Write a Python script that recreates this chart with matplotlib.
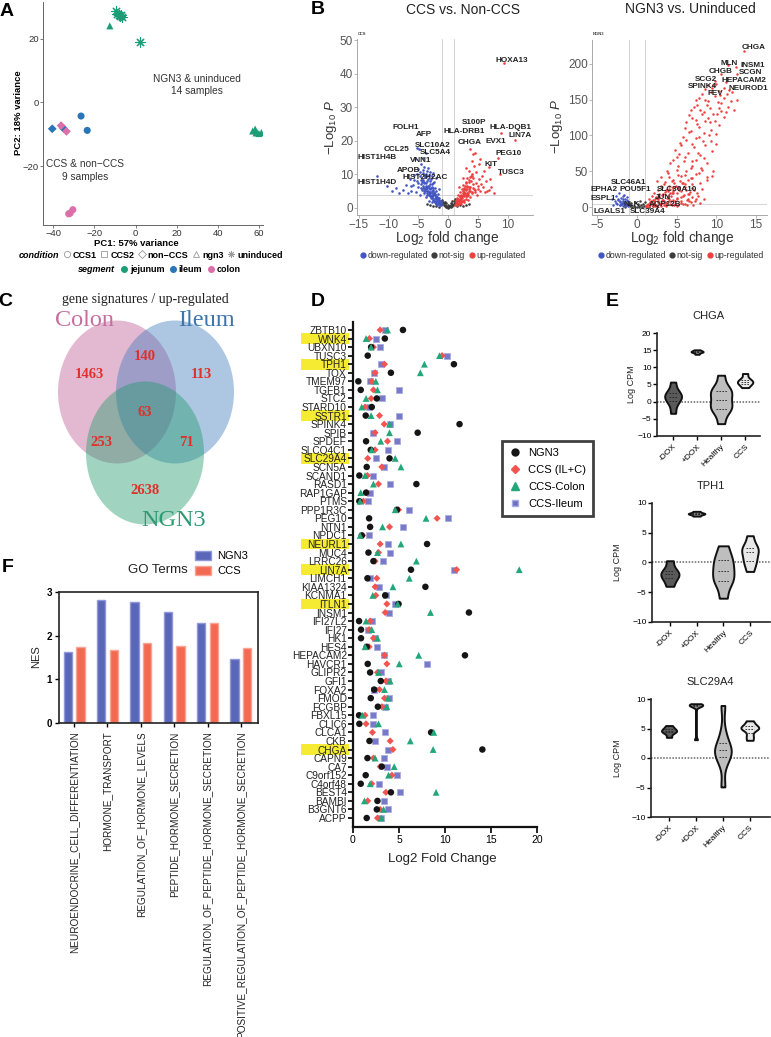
import numpy as np
import matplotlib
matplotlib.use('Agg')
import matplotlib.pyplot as plt
from matplotlib.lines import Line2D
from matplotlib.patches import Ellipse, Rectangle, Patch
import matplotlib.transforms as mtransforms

plt.rcParams['font.family'] = ['Liberation Sans', 'DejaVu Sans']
plt.rcParams['mathtext.fontset'] = 'custom'
plt.rcParams['mathtext.rm'] = 'Liberation Sans'
plt.rcParams['mathtext.it'] = 'Liberation Sans:italic'
plt.rcParams['mathtext.bf'] = 'Liberation Sans:bold'

# ======================= DATA =======================
# --- A: PCA ---
pca_segment = ['jejunum'] * 14 + ['ileum'] * 4 + ['colon'] * 5
pca_condition = (['ngn3'] * 7 + ['uninduced'] * 7 + ['non-CCS', 'non-CCS', 'CCS1', 'CCS1']
                 + ['non-CCS', 'non-CCS', 'CCS1', 'CCS1', 'CCS1'])
pca_pc1 = [-12.5, 57.0, 58.2, 59.0, 60.0, 61.2, 58.6, -9.5, -9.0, -8.2, -7.4, -7.0, -6.6, 2.3,
           -40.5, -35.0, -26.5, -23.5, -36.2, -33.6, -32.5, -31.8, -30.5]
pca_pc2 = [24.0, -9.0, -8.4, -9.4, -9.8, -9.5, -9.6, 28.6, 27.8, 27.4, 27.0, 27.3, 26.7, 19.0,
           -8.3, -8.2, -4.3, -8.8, -7.3, -9.1, -35.0, -34.8, -33.7]

# --- B left: CCS vs Non-CCS volcano ---
ccs_down_x = [-1.2, -1.3, -1.4, -1.5, -1.6, -1.7, -1.8, -1.9, -2.0, -2.0,
              -2.1, -2.2, -2.3, -2.3, -2.4, -2.5, -2.5, -2.6, -2.7, -2.7,
              -2.8, -2.9, -2.9, -3.0, -3.1, -3.1, -3.2, -3.3, -3.3, -3.4,
              -3.5, -3.5, -3.6, -3.7, -3.8, -3.9, -4.0, -4.0, -4.1, -4.2,
              -4.3, -4.4, -4.5, -4.6, -4.7, -4.8, -5.0, -5.1, -5.2, -5.4,
              -5.5, -5.7, -5.9, -6.2, -6.4, -6.8, -7.1, -7.6, -8.2, -8.8,
              -9.4, -10.3, -12.0, -4.9, -3.8, -4.3, -5.2, -2.1, -1.6, -2.6,
              -1.5, -1.8, -2.1, -2.4, -2.7, -3.0, -3.3, -3.6, -3.9, -4.2,
              -1.9, -2.2, -2.5, -2.8, -3.1, -3.4, -3.7, -4.0, -4.4, -4.8,
              -1.3, -1.5, -1.7, -1.9, -2.1, -2.3, -2.5, -2.7, -2.9, -3.1,
              -3.3, -3.5, -3.7, -3.9, -4.1, -4.3, -4.5, -1.4, -1.6, -1.8,
              -2.0, -2.2, -2.4, -2.6, -2.8, -3.0, -3.2, -3.4, -3.6, -3.8,
              -4.0, -4.2, -4.4, -2.0, -2.3, -2.6, -2.9, -3.2, -3.5, -3.8,
              -4.1, -4.6, -5.0, -5.3, -5.8, -6.3, -2.8, -3.4, -3.0, -2.4]
ccs_down_y = [1.0, 2.0, 1.4, 3.0, 2.2, 4.1, 1.6, 3.4, 5.0, 2.6,
              1.3, 4.2, 6.1, 3.0, 2.0, 5.3, 7.4, 3.8, 1.8, 6.4,
              4.6, 8.6, 2.9, 5.7, 7.0, 3.6, 9.8, 4.8, 2.2, 6.6,
              8.0, 11.0, 5.2, 3.2, 7.3, 9.1, 4.4, 12.2, 6.0, 8.4,
              10.3, 5.3, 13.0, 7.0, 9.4, 3.8, 6.2, 11.5, 8.0, 4.8,
              14.5, 9.8, 6.9, 5.0, 8.6, 4.6, 6.8, 5.4, 4.4, 6.0,
              5.2, 6.6, 9.6, 17.5, 16.3, 15.0, 18.0, 9.0, 5.8, 10.5,
              1.8, 2.9, 3.6, 4.4, 3.2, 4.0, 6.0, 4.0, 5.6, 6.6,
              0.9, 1.8, 2.7, 3.4, 4.6, 5.0, 6.4, 7.8, 8.2, 10.6,
              1.6, 2.4, 2.9, 2.1, 3.0, 3.8, 4.0, 5.0, 6.0, 4.8,
              3.9, 5.9, 6.5, 5.0, 7.3, 6.0, 8.3, 0.8, 1.2, 2.5,
              3.6, 1.7, 4.8, 6.0, 7.0, 8.0, 6.6, 8.6, 9.6, 10.2,
              9.8, 11.2, 7.6, 1.4, 2.2, 2.4, 3.6, 4.2, 4.6, 5.6,
              5.0, 6.0, 7.4, 10.0, 8.2, 6.6, 9.4, 12.0, 10.8, 7.8]
ccs_up_x = [1.2, 1.3, 1.4, 1.5, 1.6, 1.7, 1.8, 1.9, 2.0, 2.0,
            2.1, 2.2, 2.3, 2.3, 2.4, 2.5, 2.5, 2.6, 2.7, 2.7,
            2.8, 2.9, 2.9, 3.0, 3.1, 3.1, 3.2, 3.3, 3.3, 3.4,
            3.5, 3.5, 3.6, 3.7, 3.8, 3.9, 4.0, 4.0, 4.1, 4.2,
            4.3, 4.4, 4.5, 4.6, 4.7, 4.8, 5.0, 5.1, 5.2, 5.4,
            5.6, 5.9, 6.2, 6.4, 6.8, 7.2, 7.6, 3.6, 4.2, 3.0,
            2.4, 1.8, 6.0, 5.3, 1.5, 1.9, 2.2, 2.6, 3.0, 3.4,
            9.3, 8.8, 11.2, 8.4, 6.9, 8.6,
            1.3, 1.5, 1.7, 1.9, 2.1, 2.3, 2.5, 2.7, 2.9, 3.1,
            3.3, 3.5, 3.7, 3.9, 4.1, 4.3, 1.4, 1.6, 1.8, 2.0,
            2.2, 2.4, 2.6, 2.8, 3.0, 3.2, 3.4, 3.6, 3.8, 4.0,
            2.0, 2.3, 2.6, 2.9, 3.2, 4.5, 4.9, 5.5, 6.5, 7.0]
ccs_up_y = [1.0, 2.0, 1.4, 3.0, 2.2, 3.8, 1.6, 3.3, 4.7, 2.5,
            1.3, 4.0, 5.6, 3.0, 2.0, 5.0, 6.8, 3.7, 1.8, 6.0,
            4.4, 7.8, 2.8, 5.4, 6.6, 3.5, 9.0, 4.6, 2.3, 6.2,
            7.6, 11.0, 5.0, 3.2, 8.0, 10.2, 4.4, 14.0, 6.0, 9.0,
            12.5, 5.5, 16.5, 7.4, 10.8, 4.0, 6.6, 13.0, 8.5, 5.0,
            9.6, 6.4, 4.8, 8.0, 5.4, 6.4, 4.6, 17.5, 16.0, 12.0,
            8.8, 6.2, 11.0, 14.5, 1.8, 2.6, 3.3, 4.2, 3.9, 5.0,
            43.2, 22.4, 20.4, 15.0, 12.3, 10.0,
            1.6, 2.4, 2.8, 2.0, 3.0, 3.6, 3.9, 4.8, 5.8, 4.6,
            3.8, 5.6, 6.4, 4.9, 7.0, 5.8, 0.8, 1.2, 2.5, 3.5,
            1.7, 4.6, 5.8, 6.6, 7.4, 6.2, 8.2, 9.2, 9.6, 9.4,
            1.4, 2.2, 2.4, 3.6, 4.0, 4.8, 5.6, 7.0, 5.2, 8.6]
ccs_ns_x = [-1.0, -0.8, -0.6, -0.4, -0.2, 0.0, 0.2, 0.4, 0.6, 0.8, 1.0,
            -0.9, -0.5, -0.1, 0.3, 0.7, 1.1, -0.7, -0.3, 0.1, 0.5, 0.9,
            -1.1, -0.6, 0.0, 0.6, 1.2, -1.3, 1.3, -0.4, 0.4,
            -2.5, -2.0, -1.5, 1.5, 2.0, 2.5, 3.0, -3.0, -3.5, 3.5]
ccs_ns_y = [1.2, 0.9, 0.6, 0.4, 0.2, 0.1, 0.2, 0.4, 0.6, 0.9, 1.2,
            1.8, 0.8, 0.3, 0.5, 1.3, 1.6, 1.5, 0.7, 0.6, 1.0, 2.0,
            2.5, 1.9, 0.9, 2.2, 2.6, 2.0, 1.9, 1.4, 1.5,
            0.5, 0.7, 0.4, 0.6, 0.9, 0.7, 1.0, 0.8, 1.2, 1.1]
ccs_genes = ['HOXA13', 'FOLH1', 'AFP', 'S100P', 'HLA-DRB1', 'HLA-DQB1', 'LIN7A', 'CHGA', 'EVX1',
             'CCL25', 'SLC10A2', 'SLC5A4', 'HIST1H4B', 'VNN1', 'PEG10', 'KIT', 'TUSC3', 'APOB',
             'HIST2H2AC', 'HIST1H4D']
ccs_gene_x = [10.6, -7.1, -4.1, 4.3, 2.7, 10.4, 12.1, 3.6, 7.9, -8.6, -2.6, -2.2, -11.9, -4.6,
              10.1, 7.1, 10.5, -6.7, -3.9, -11.9]
ccs_gene_y = [43.9, 23.9, 21.8, 25.4, 22.7, 23.9, 21.5, 19.4, 19.7, 17.3, 18.5, 16.4, 15.2, 14.3,
              16.1, 13.1, 10.7, 11.3, 9.2, 7.5]

# --- B right: NGN3 vs Uninduced volcano ---
ngn3_up_x = [1.2, 1.4, 1.6, 1.8, 2.0, 2.1, 2.3, 2.4, 2.6, 2.8,
             2.9, 3.0, 3.2, 3.3, 3.5, 3.6, 3.8, 3.9, 4.0, 4.2,
             4.3, 4.5, 4.6, 4.8, 5.0, 5.1, 5.3, 5.5, 5.6, 5.8,
             6.0, 6.2, 6.4, 6.6, 6.8, 7.0, 7.3, 7.6, 8.0, 8.4,
             1.5, 1.9, 2.2, 2.7, 3.1, 3.4, 4.1, 4.7, 5.4, 2.5,
             3.7, 4.4, 5.2, 6.3, 7.1, 1.3,
             3.0, 3.8, 4.5, 5.2, 6.0, 7.0, 7.8, 4.2, 5.0, 5.9,
             6.8, 7.5, 8.2, 4.8, 5.6, 6.4, 7.2, 8.0, 8.8, 9.5,
             5.8, 6.6, 7.4, 8.3, 9.1, 10.0, 6.2, 7.0, 7.8, 8.6,
             9.4, 10.3, 6.8, 7.6, 8.4, 9.2, 10.1, 11.0, 7.4, 8.2,
             9.0, 9.8, 10.6, 11.5, 12.3, 8.6, 9.6, 10.4, 11.3, 12.6,
             3.4, 4.6, 5.8, 6.9, 7.9, 8.8, 9.5, 2.5,
             13.5, 11.5, 12.5, 10.6, 12.6, 9.8, 11.2, 9.5, 11.6, 10.5,
             1.1, 1.3, 1.5, 1.7, 1.9, 2.1, 2.3, 2.5, 2.7, 2.9,
             3.1, 3.3, 3.5, 3.7, 3.9, 4.1, 4.3, 4.5, 4.7, 4.9,
             5.1, 5.3, 5.5, 5.7, 5.9, 6.1, 6.3, 6.5, 6.7, 6.9,
             2.0, 2.4, 2.8, 3.2, 3.6, 4.0, 4.4, 4.8, 5.2, 5.6,
             6.0, 6.4, 6.8, 7.2, 7.7, 3.0, 3.5, 4.0, 4.6, 5.2,
             1.6, 2.2, 2.6, 3.4, 4.2, 5.0, 5.8, 6.6, 7.4, 8.2,
             3.9, 4.4, 5.0, 5.5, 6.2, 6.9, 7.5, 8.1, 8.8, 9.6,
             4.6, 5.3, 6.1, 6.9, 7.7, 8.5, 5.4, 6.2, 7.0, 7.8,
             8.6, 9.4, 6.0, 6.8, 7.6, 8.4, 9.2, 10.0, 6.6, 7.4,
             8.2, 9.0, 9.8, 10.6, 7.2, 8.0, 8.8, 9.6, 10.4, 11.2,
             7.8, 8.6, 9.4, 10.2, 11.0, 11.8, 9.0, 10.0, 11.0, 12.0]
ngn3_up_y = [2, 5, 3, 8, 1.5, 6, 11, 3, 8, 14,
             5, 2, 10, 18, 6, 3, 13, 22, 8, 4,
             16, 26, 10, 5, 19, 13, 28, 8, 22, 15,
             5, 24, 11, 18, 7, 14, 9, 20, 6, 12,
             12, 16, 20, 24, 28, 9, 30, 34, 37, 1,
             1.5, 2.5, 3, 2.5, 3.5, 0.8,
             42, 50, 38, 58, 45, 40, 48, 62, 70, 64,
             55, 66, 52, 80, 86, 76, 84, 72, 62, 78,
             98, 105, 96, 92, 100, 88, 118, 124, 112, 120,
             108, 115, 135, 142, 132, 138, 130, 126, 150, 158,
             148, 155, 145, 140, 135, 165, 170, 162, 158, 150,
             32, 28, 33, 26, 34, 38, 44, 36,
             218, 198, 195, 186, 185, 176, 175, 166, 163, 156,
             1, 3, 2, 6, 4, 9, 2, 13, 7, 4,
             17, 10, 21, 6, 15, 25, 9, 19, 3, 30,
             12, 24, 6, 33, 17, 28, 10, 38, 21, 32,
             10, 14, 18, 6, 24, 12, 20, 9, 26, 14,
             32, 18, 40, 24, 15, 30, 35, 42, 22, 45,
             7, 4, 11, 3, 20, 2, 4, 8, 12, 25,
             48, 36, 52, 44, 50, 58, 46, 55, 42, 50,
             66, 74, 70, 64, 76, 68, 90, 94, 88, 98,
             86, 92, 110, 106, 116, 104, 118, 102, 128, 122,
             130, 124, 120, 134, 140, 136, 142, 130, 138, 132,
             152, 150, 160, 146, 152, 148, 170, 172, 166, 160]
ngn3_down_x = [-1.1, -1.2, -1.3, -1.4, -1.5, -1.6, -1.7, -1.8, -1.9, -2.0, -2.1,
               -2.2, -2.4, -2.5, -2.7, -2.8, -3.0, -3.2, -1.3, -1.6, -2.3,
               -1.2, -1.4, -1.6, -1.8, -2.0, -2.2, -1.3, -1.5, -1.7, -1.9, -2.1, -2.6, -1.1, -2.4, -1.8]
ngn3_down_y = [2, 5, 8, 3, 11, 6, 1.5, 9, 4, 13, 7, 2.5, 10, 5, 15, 8, 3.5, 12, 14, 17, 20,
               3, 6, 4, 7, 5, 9, 10, 2, 12, 6, 3, 6, 7, 12, 15]
ngn3_ns_x = [-0.9, -0.6, -0.3, 0, 0.3, 0.6, 0.9, -0.8, -0.4, 0.2, 0.5, 0.8, -0.7, 0.1,
             -1.0, 1.0, -0.2, 0.4, 1.5, 2.0, -1.5, 2.5]
ngn3_ns_y = [1, 0.5, 0.2, 0.1, 0.3, 0.6, 1.2, 3, 2, 1.5, 3.5, 5, 6, 4, 4.5, 7, 6.5, 8, 0.5, 1, 0.6, 1.5]
ngn3_genes = ['CHGA', 'MLN', 'INSM1', 'CHGB', 'SCGN', 'SCG2', 'HEPACAM2', 'SPINK4', 'NEUROD1', 'FEV',
              'SLC46A1', 'EPHA2', 'POU5F1', 'SLC30A10', 'ESPL1', 'JUN', 'NLK', 'AQP12B', 'LGALS1',
              'SLC39A4']
ngn3_gene_x = [14.7, 11.6, 14.6, 10.5, 14.3, 8.75, 13.5, 8.25, 14.0, 9.9,
               -1.0, -4.1, -0.2, 5.0, -4.3, 3.3, -0.6, 3.5, -3.5, 1.3]
ngn3_gene_y = [222, 200, 197, 189, 188, 178, 177, 168, 166, 158,
               35, 24, 24, 24, 12.5, 14, 4, 4, -6, -6]

# --- C: Venn ---
venn_sets = ['Colon', 'Ileum', 'NGN3']
venn_regions = ['Colon only', 'Colon&Ileum', 'Ileum only', 'All', 'Colon&NGN3', 'Ileum&NGN3', 'NGN3 only']
venn_counts = [1463, 140, 113, 63, 253, 71, 2638]

# --- D: Log2 fold change dot plot ---
d_genes = ['ZBTB10', 'WNK4', 'UBXN10', 'TUSC3', 'TPH1', 'TOX', 'TMEM97', 'TGFB1', 'STC2', 'STARD10',
           'SSTR1', 'SPINK4', 'SPIB', 'SPDEF', 'SLCO4C1', 'SLC29A4', 'SCN5A', 'SCAND1', 'RASD1',
           'RAP1GAP', 'PTMS', 'PPP1R3C', 'PEG10', 'NTN1', 'NPDC1', 'NEURL1', 'MUC4', 'LRRC26',
           'LIN7A', 'LIMCH1', 'KIAA1324', 'KCNMA1', 'ITLN1', 'INSM1', 'IFI27L2', 'IFI27', 'HK1',
           'HES4', 'HEPACAM2', 'HAVCR1', 'GLIPR2', 'GFI1', 'FOXA2', 'FMOD', 'FCGBP', 'FBXL15',
           'CLIC6', 'CLCA1', 'CKB', 'CHGA', 'CAPN9', 'CA7', 'C9orf152', 'C4orf48', 'BEST4',
           'BAMBI', 'B3GNT6', 'ACPP']
d_ngn3 = [5.43, 3.46, 1.97, 1.6, 10.97, 4.12, 0.58, 0.84, 2.59, 2.04,
          1.38, 11.58, 7.03, 1.42, 1.93, 3.97, 1.49, 0.69, 6.89, 1.42,
          0.69, 4.77, 1.75, 1.86, 0.95, 8.05, 1.68, 2.22, 6.3, 1.57,
          7.87, 3.5, 4.95, 12.6, 0.66, 0.87, 0.87, 1.49, 12.17, 1.6,
          1.86, 3.02, 2.3, 1.93, 2.7, 0.66, 0.69, 8.49, 1.79, 14.06,
          1.57, 3.13, 1.38, 0.84, 4.12, 2.66, 2.59, 1.49]
d_ccs = [2.95, 1.79, 2.22, 9.69, 3.42, 2.4, 2.04, 2.22, 1.97, 1.31,
         2.88, 3.39, 2.4, 3.75, 2.4, 1.6, 3.13, 1.57, 2.77, 1.49,
         1.13, 4.95, 9.14, 3.97, 1.06, 2.95, 2.77, 2.4, 11.26, 2.59,
         2.4, 2.48, 3.68, 3.5, 1.86, 1.75, 2.22, 1.75, 3.42, 3.68,
         2.66, 3.57, 2.88, 3.42, 3.13, 1.31, 1.42, 2.11, 4.04, 4.34,
         2.22, 2.95, 4.23, 2.04, 3.57, 1.6, 2.95, 2.66]
d_colon = [3.75, 1.42, 1.97, 9.4, 7.76, 7.32, 2.48, 2.66, 1.42, 0.95,
           1.97, 3.97, 3.97, 3.02, 2.04, 4.59, 5.21, 1.31, 2.22, 0.84,
           0.77, 4.59, 7.94, 3.21, 0.77, 5.21, 2.66, 6.89, 18.07, 6.12,
           4.34, 2.15, 4.85, 8.42, 1.42, 2.04, 2.66, 1.31, 7.14, 5.03,
           2.77, 4.04, 3.42, 3.8, 3.68, 1.02, 2.77, 8.78, 6.23, 8.71,
           2.4, 4.48, 3.86, 1.86, 9.03, 1.24, 3.32, 3.06]
d_ileum = [3.5, 2.51, 2.95, 10.24, 3.02, 2.33, 1.86, 4.95, 3.13, 1.79,
           4.95, 4.04, 2.15, 4.77, 3.75, 2.48, 3.39, 2.22, 3.97, 1.86,
           1.68, 6.12, 10.35, 5.43, 1.75, 3.75, 3.97, 3.21, 10.97, 1.86,
           2.84, 3.61, 4.52, 3.93, 2.11, 1.68, 2.4, 2.66, 3.42, 8.05,
           3.06, 3.79, 2.3, 3.93, 3.5, 2.15, 2.22, 3.5, 2.4, 3.75,
           3.39, 3.68, 4.77, 2.88, 5.14, 3.39, 3.79, 3.06]
d_highlight = ['WNK4', 'TPH1', 'SSTR1', 'SLC29A4', 'NEURL1', 'LIN7A', 'ITLN1', 'CHGA']
d_series = ['NGN3', 'CCS (IL+C)', 'CCS-Colon', 'CCS-Ileum']

# --- E: violins (log CPM per sample) ---
e_genes = ['CHGA', 'TPH1', 'SLC29A4']
e_groups = ['-DOX', '+DOX', 'Healthy', 'CCS']
chga_vals = [[-3.4, -0.5, 0.8, 1.5, 2.0, 2.9, 5.7],
             [13.8, 14.3, 14.5, 14.6, 14.8, 15.1],
             [-6.4, -2.5, -2.0, -1.2, 0.5, 2.5, 3.2, 3.6, 7.7],
             [4.1, 5.2, 5.5, 6.0, 6.6, 8.2]]
tph1_vals = [[-4.0, -2.8, -2.2, -1.8, -1.2, 0.3],
             [7.8, 8.1, 8.2, 8.3, 8.6],
             [-6.0, -3.5, -3.0, -1.8, -1.0, 0.2, 1.0, 2.8],
             [-1.5, 0.0, 0.5, 1.8, 2.3, 2.6, 4.5]]
slc29a4_vals = [[3.5, 4.3, 4.5, 4.7, 5.0, 5.5],
                [3.1, 8.8, 8.9, 9.0, 9.0, 9.2],
                [-4.9, -0.6, 0.5, 1.2, 1.5, 2.0, 4.3, 8.9],
                [3.0, 3.8, 4.8, 5.0, 5.2, 5.6, 6.3]]

# --- F: GO terms NES ---
go_terms = ['NEUROENDOCRINE_CELL_DIFFERENTIATION', 'HORMONE_TRANSPORT', 'REGULATION_OF_HORMONE_LEVELS',
            'PEPTIDE_HORMONE_SECRETION', 'REGULATION_OF_PEPTIDE_HORMONE_SECRETION',
            'POSITIVE_REGULATION_OF_PEPTIDE_HORMONE_SECRETION']
nes_ngn3 = [1.63, 2.81, 2.76, 2.55, 2.28, 1.47]
nes_ccs = [1.73, 1.68, 1.84, 1.77, 2.28, 1.71]

# ======================= FIGURE =======================
W, H = 771, 1037
fig = plt.figure(figsize=(W / 100, H / 100), dpi=100)


def fx(px):
    return px / W


def fy(py):
    return 1 - py / H


def add_ax(x0, y0, x1, y1):
    return fig.add_axes([x0 / W, 1 - y1 / H, (x1 - x0) / W, (y1 - y0) / H])


def panel_label(x, y, s):
    fig.text(fx(x), fy(y), s, fontsize=14, fontweight='bold', ha='center', va='center')


# ---------------- A ----------------
axA = add_ax(43, 2, 263, 225)
seg_colors = {'jejunum': '#1B9E77', 'ileum': '#2A74B8', 'colon': '#DB6FA9'}
cond_markers = {'CCS1': 'o', 'CCS2': 's', 'non-CCS': 'D', 'ngn3': '^', 'uninduced': (8, 2, 0)}
for seg, col in seg_colors.items():
    for cond, mk in cond_markers.items():
        idx = [i for i in range(len(pca_pc1)) if pca_segment[i] == seg and pca_condition[i] == cond]
        if not idx:
            continue
        xs = [pca_pc1[i] for i in idx]
        ys = [pca_pc2[i] for i in idx]
        if cond == 'uninduced':
            axA.scatter(xs, ys, marker=mk, s=45, c=col, linewidths=0.8)
        else:
            axA.scatter(xs, ys, marker=mk, s=26 if cond != 'non-CCS' else 20, c=col, edgecolors='none')
axA.set_xlim(-45, 62)
axA.set_ylim(-38.5, 31.5)
axA.set_xticks([-40, -20, 0, 20, 40, 60])
axA.set_yticks([-20, 0, 20])
for s in ('top', 'right'):
    axA.spines[s].set_visible(False)
for s in ('left', 'bottom'):
    axA.spines[s].set_color('#666')
    axA.spines[s].set_linewidth(0.7)
axA.tick_params(labelsize=6.8, colors='#666', labelcolor='#333', length=2, width=0.6, pad=1)
fig.text(fx(136), fy(243), 'PC1: 57% variance', ha='center', va='center', fontsize=6.8, fontweight='bold')
fig.text(fx(19), fy(113), 'PC2: 18% variance', ha='center', va='center', fontsize=6.8,
         fontweight='bold', rotation=90)
axA.text(29.9, 5.4, 'NGN3 & uninduced\n14 samples', ha='center', va='center', fontsize=7.3,
         color='#333', linespacing=1.3)
axA.text(-24.6, -21.4, 'CCS & non\u2212CCS\n9 samples', ha='center', va='center', fontsize=7.3,
         color='#333', linespacing=1.3)
cond_handles = [Line2D([], [], ls='none', label='condition')]
for cond, lab in zip(['CCS1', 'CCS2', 'non-CCS', 'ngn3', 'uninduced'],
                     ['CCS1', 'CCS2', 'non\u2212CCS', 'ngn3', 'uninduced']):
    mk = cond_markers[cond]
    if cond == 'uninduced':
        cond_handles.append(Line2D([], [], ls='none', marker=mk, markersize=5, color='#999',
                                   markeredgewidth=0.6, label=lab))
    else:
        cond_handles.append(Line2D([], [], ls='none', marker=mk, markersize=4.5, markerfacecolor='none',
                                   markeredgecolor='#999', markeredgewidth=0.6, label=lab))
legA1 = fig.legend(handles=cond_handles, loc='center', bbox_to_anchor=(fx(146), fy(255)), ncol=6,
                   frameon=False, handlelength=0.7, handletextpad=0.3, columnspacing=0.5,
                   borderpad=0, prop={'weight': 'bold', 'size': 6.5})
legA1.get_texts()[0].set_fontstyle('italic')
seg_handles = [Line2D([], [], ls='none', label='segment')]
for seg, col in seg_colors.items():
    seg_handles.append(Line2D([], [], ls='none', marker='o', markersize=4, color=col, label=seg))
legA2 = fig.legend(handles=seg_handles, loc='center', bbox_to_anchor=(fx(155), fy(270)), ncol=4,
                   frameon=False, handlelength=0.7, handletextpad=0.3, columnspacing=0.6,
                   borderpad=0, prop={'weight': 'bold', 'size': 6.5})
legA2.get_texts()[0].set_fontstyle('italic')
panel_label(7, 11, 'A')

# ---------------- B ----------------
c_down, c_ns, c_up = '#4355C2', '#3C3C3C', '#EE3F3F'


def volcano(ax, ns_x, ns_y, dn_x, dn_y, up_x, up_y, genes, gx, gy, xlim, ylim, xt, yt, hline, ms):
    ax.scatter(ns_x, ns_y, s=ms, c=c_ns, lw=0, zorder=2)
    ax.scatter(dn_x, dn_y, s=ms, c=c_down, lw=0, zorder=2)
    ax.scatter(up_x, up_y, s=ms, c=c_up, lw=0, zorder=2)
    for v in (-1, 1):
        ax.axvline(v, color='#cfcfcf', lw=0.6, zorder=0)
    ax.axhline(hline, color='#cfcfcf', lw=0.6, zorder=0)
    for g, x, y in zip(genes, gx, gy):
        ax.text(x, y, g, ha='center', va='center', fontsize=5.9, fontweight='bold', color='#222', zorder=3)
    ax.set_xlim(xlim)
    ax.set_ylim(ylim)
    ax.set_xticks(xt)
    ax.set_yticks(yt)
    for s in ('top', 'right'):
        ax.spines[s].set_visible(False)
    for s in ('left', 'bottom'):
        ax.spines[s].set_color('#9a9a9a')
        ax.spines[s].set_linewidth(0.6)
    ax.tick_params(labelsize=8.5, colors='#9a9a9a', labelcolor='#555', length=2, width=0.5, pad=0.8)


axBL = add_ax(357, 39, 533, 215)
volcano(axBL, ccs_ns_x, ccs_ns_y, ccs_down_x, ccs_down_y, ccs_up_x, ccs_up_y,
        ccs_genes, ccs_gene_x, ccs_gene_y, (-15.3, 14.2), (-2.1, 50.4),
        [-15, -10, -5, 0, 5, 10], [0, 10, 20, 30, 40, 50], 3.9, 3.5)
axBR = add_ax(592, 40, 767, 215)
volcano(axBR, ngn3_ns_x, ngn3_ns_y, ngn3_down_x, ngn3_down_y, ngn3_up_x, ngn3_up_y,
        ngn3_genes, ngn3_gene_x, ngn3_gene_y, (-5.67, 16.4), (-11, 233),
        [-5, 0, 5, 10, 15], [0, 50, 100, 150, 200], 4, 3.2)
fig.text(fx(463), fy(10), 'CCS vs. Non-CCS', ha='center', va='center', fontsize=10, color='#222')
fig.text(fx(690), fy(9), 'NGN3 vs. Uninduced', ha='center', va='center', fontsize=10, color='#222')
fig.text(fx(358), fy(34), 'CCS', fontsize=3, fontweight='bold', color='#444', va='center')
fig.text(fx(593), fy(34), 'NGN3', fontsize=3, fontweight='bold', color='#444', va='center')
for cx, cy in ((331, 127), (557, 126)):
    fig.text(fx(cx), fy(cy), r'$-\mathrm{Log}_{10}\ \mathit{P}$', rotation=90, ha='center', va='center',
             fontsize=9.5, color='#333')
for cx in (447, 682):
    fig.text(fx(cx), fy(238), r'$\mathrm{Log}_{2}$ fold change', ha='center', va='center',
             fontsize=9.8, color='#333')
vol_handles = [Line2D([], [], ls='none', marker='o', markersize=3.5, color=c, label=l)
               for c, l in ((c_down, 'down-regulated'), (c_ns, 'not-sig'), (c_up, 'up-regulated'))]
for cx in (443, 681):
    fig.legend(handles=vol_handles, loc='center', bbox_to_anchor=(fx(cx), fy(256)), ncol=3,
               frameon=False, fontsize=6.3, handlelength=0.5, handletextpad=0.25, columnspacing=0.5,
               borderpad=0, labelcolor='#333')
panel_label(318, 10, 'B')

# ---------------- C ----------------
axC = add_ax(0, 290, 290, 560)
axC.set_xlim(0, 290)
axC.set_ylim(560, 290)
axC.axis('off')
venn_centers = [(117, 392), (175, 392), (145, 453)]
venn_fill = ['#BE5A93', '#3C78BC', '#1E9A6A']
for (cx, cy), fc in zip(venn_centers, venn_fill):
    axC.add_patch(Ellipse((cx, cy), 118, 143, facecolor=fc, alpha=0.42, edgecolor='none'))
venn_label_pos = [(84, 321), (207, 320), (174, 520)]
venn_label_col = ['#C56F9E', '#3B76AE', '#2E9A73']
for name, (lx, ly), lc in zip(venn_sets, venn_label_pos, venn_label_col):
    axC.text(lx, ly, name, ha='center', va='center', fontsize=17.5, color=lc, family='Liberation Serif')
venn_count_pos = [(89, 375), (145, 357), (201, 375), (145, 413), (101, 442), (187, 442), (145, 491)]
for n, (tx, ty) in zip(venn_counts, venn_count_pos):
    axC.text(tx, ty, str(n), ha='center', va='center', fontsize=10.5, fontweight='bold',
             color='#E0302A', family='Liberation Serif')
fig.text(fx(145), fy(299), 'gene signatures / up-regulated', ha='center', va='center', fontsize=10,
         family='Liberation Serif', color='#222')
panel_label(5, 302, 'C')

# ---------------- D ----------------
axD = add_ax(353, 322, 537, 827)
ypos = np.arange(len(d_genes))
axD.scatter(d_ileum, ypos, marker='s', s=22, c='#6A6FC4', edgecolors='#A9ACE0', linewidths=0.6,
            alpha=0.92, zorder=3)
axD.scatter(d_ccs, ypos, marker='D', s=13, c='#F25550', edgecolors='none', zorder=4)
axD.scatter(d_ngn3, ypos, marker='o', s=22, c='#151515', edgecolors='none', zorder=5)
axD.scatter(d_colon, ypos, marker='^', s=24, c='#22A77A', edgecolors='none', zorder=6)
axD.set_xlim(0, 20)
axD.set_ylim(58.05, -0.93)
axD.set_yticks(ypos)
axD.set_yticklabels(d_genes, fontsize=7.3, color='#222')
axD.set_xticks([0, 5, 10, 15, 20])
axD.tick_params(axis='y', length=3.5, width=1.2, pad=1)
axD.tick_params(axis='x', length=4, width=1.2, labelsize=7.5, pad=2)
for s in ('top', 'right'):
    axD.spines[s].set_visible(False)
for s in ('left', 'bottom'):
    axD.spines[s].set_linewidth(1.6)
    axD.spines[s].set_color('#111')
trans = mtransforms.blended_transform_factory(fig.transFigure, axD.transData)
for g in d_highlight:
    i = d_genes.index(g)
    axD.add_patch(Rectangle((fx(301), i - 0.63), (349 - 301) / W, 1.26, transform=trans,
                            facecolor='#F6EB33', edgecolor='none', clip_on=False, zorder=0))
axD.set_ylim(58.05, -0.93)
fig.text(fx(442), fy(859), 'Log2 Fold Change', ha='center', va='center', fontsize=9.5, color='#222')
d_handles = [Line2D([], [], ls='none', marker='o', markersize=5, color='#151515', label=d_series[0]),
             Line2D([], [], ls='none', marker='D', markersize=3.8, color='#F25550', label=d_series[1]),
             Line2D([], [], ls='none', marker='^', markersize=5.2, color='#22A77A', label=d_series[2]),
             Line2D([], [], ls='none', marker='s', markersize=5, color='#6A6FC4',
                    markeredgecolor='#A9ACE0', label=d_series[3])]
legD = fig.legend(handles=d_handles, loc='upper left', bbox_to_anchor=(fx(502), fy(441)), fontsize=8,
                  frameon=True, fancybox=False, edgecolor='#111', borderpad=0.65, labelspacing=0.62,
                  handlelength=1.0, handletextpad=0.7, borderaxespad=0)
legD.get_frame().set_linewidth(2)
panel_label(318, 302, 'D')

# ---------------- E ----------------
e_fills = ['#5A5A5A', '#8C8C8C', '#BEBEBE', '#E8E8E8']
e_boxes = [(657, 333, 760, 436), (652, 503, 770, 622), (651, 699, 770, 817)]
e_ylims = [(-10, 20), (-10, 10), (-10, 10)]
e_yticks = [[-10, -5, 0, 5, 10, 15, 20], [-10, -5, 0, 5, 10], [-10, -5, 0, 5, 10]]
e_xlims = [(-0.67, 3.62), (-0.67, 3.75), (-0.67, 3.75)]
e_widths = [[0.7, 0.5, 0.9, 0.64], [0.68, 0.62, 0.8, 0.62], [0.56, 0.5, 0.62, 0.66]]
e_bw = [[0.5, 0.5, 0.45, 0.5], [0.5, 0.5, 0.45, 0.5], [0.5, 0.12, 0.4, 0.4]]
e_title_y = [316, 486, 682]
e_ylabel_x = [632, 618, 618]
for gname, vals, box, yl, yt, xl, wd, bws, ty, ylx in zip(
        e_genes, [chga_vals, tph1_vals, slc29a4_vals], e_boxes, e_ylims, e_yticks, e_xlims,
        e_widths, e_bw, e_title_y, e_ylabel_x):
    ax = add_ax(*box)
    ax.axhline(0, color='#666', lw=1.1, ls=(0, (1, 1)), zorder=0.5)
    for i, (v, w, fc, bw) in enumerate(zip(vals, wd, e_fills, bws)):
        parts = ax.violinplot([v], positions=[i], widths=w, showextrema=False,
                              quantiles=[[0.25, 0.5, 0.75]], bw_method=bw)
        body = parts['bodies'][0]
        body.set_facecolor(fc)
        body.set_edgecolor('#111')
        body.set_linewidth(1.4)
        body.set_alpha(1)
        body.set_zorder(2)
        cq = parts['cquantiles']
        cq.set_color('#222')
        cq.set_linestyle((0, (2, 1.5)))
        cq.set_linewidth(0.6)
        cq.set_zorder(3)
        cq.set_clip_path(body.get_paths()[0], body.get_transform())
    ax.set_xlim(*xl)
    ax.set_ylim(*yl)
    ax.set_yticks(yt)
    ax.set_xticks(range(len(e_groups)))
    ax.set_xticklabels(e_groups, rotation=45, ha='right', rotation_mode='anchor', fontsize=6)
    ax.tick_params(axis='y', labelsize=6, length=3, width=1.0, pad=1)
    ax.tick_params(axis='x', length=3, width=1.0, pad=2)
    for s in ('top', 'right'):
        ax.spines[s].set_visible(False)
    for s in ('left', 'bottom'):
        ax.spines[s].set_linewidth(1.2)
        ax.spines[s].set_color('#222')
    fig.text(fx((box[0] + box[2]) / 2), fy(ty), gname, ha='center', va='center', fontsize=8, color='#222')
    fig.text(fx(ylx), fy((box[1] + box[3]) / 2), 'Log CPM', rotation=90, ha='center', va='center',
             fontsize=6.5, color='#222')
panel_label(612, 302, 'E')

# ---------------- F ----------------
axF = add_ax(59, 592, 258, 723)
xg = np.arange(len(go_terms))
axF.bar(xg - 0.19, nes_ngn3, width=0.25, color='#5A66B8', edgecolor='#9198DA', linewidth=1.0,
        label='NGN3')
axF.bar(xg + 0.19, nes_ccs, width=0.25, color='#F26A52', edgecolor='#F8A394', linewidth=1.0,
        label='CCS')
axF.set_xlim(-0.45, 5.51)
axF.set_ylim(0, 3)
axF.set_yticks([0, 1, 2, 3])
axF.set_xticks(xg)
axF.set_xticklabels(go_terms, rotation=90, ha='center', va='top', fontsize=7.2, color='#222')
axF.tick_params(axis='y', labelsize=7, length=3, width=1.0, pad=2)
axF.tick_params(axis='x', length=3, width=1.0, pad=3)
for lab in axF.get_yticklabels():
    lab.set_fontweight('bold')
for s in axF.spines.values():
    s.set_linewidth(1.2)
    s.set_color('#222')
fig.text(fx(36), fy(657), 'NES', rotation=90, ha='center', va='center', fontsize=8, color='#222')
fig.text(fx(158), fy(570), 'GO Terms', ha='center', va='center', fontsize=9.5, color='#222')
f_handles = [Patch(facecolor='#5A66B8', edgecolor='#9198DA', label='NGN3'),
             Patch(facecolor='#F26A52', edgecolor='#F8A394', label='CCS')]
fig.legend(handles=f_handles, loc='upper left', bbox_to_anchor=(fx(195), fy(551)), fontsize=8,
           frameon=False, handlelength=1.4, handleheight=0.8, labelspacing=0.45, handletextpad=0.6,
           borderpad=0, borderaxespad=0)
panel_label(8, 568, 'F')

fig.savefig('out.png', dpi=100)
